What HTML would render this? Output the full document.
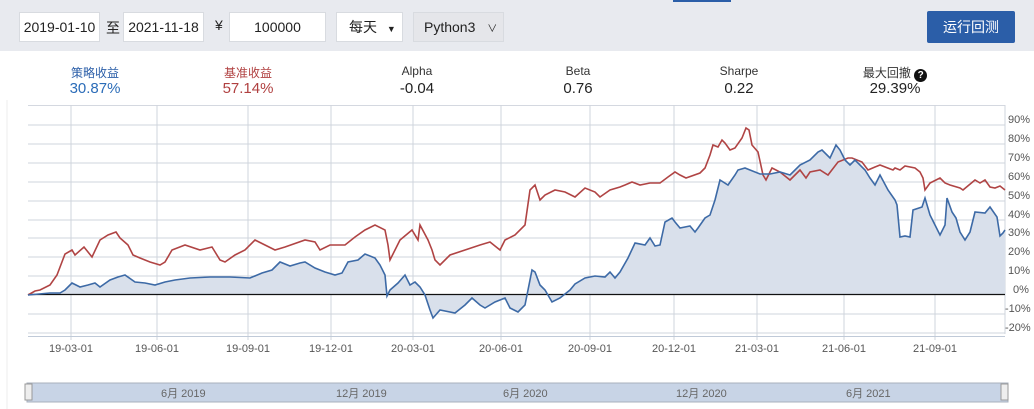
<!DOCTYPE html>
<html><head><meta charset="utf-8"><style>
body{margin:0;width:1034px;height:409px;overflow:hidden;background:#fff;font-family:"Liberation Sans","Noto Sans CJK SC",sans-serif;position:relative}
.hd{position:absolute;left:0;top:0;width:1034px;height:51px;background:#e8eaef}
.box{position:absolute;top:12px;height:30px;background:#fff;border:1px solid #d8dbe0;box-sizing:border-box;font-size:14px;line-height:28px;color:#222}
.st{position:absolute;text-align:center;width:140px}
.st .l{font-size:12px;color:#333;position:absolute;top:64px;width:140px}
.st .v{font-size:15px;color:#222;position:absolute;top:80px;width:140px}
</style></head><body>
<div class="hd"></div>
<div style="position:absolute;left:673px;top:0;width:58px;height:2px;background:#2b5ea8"></div>
<div class="box" style="left:19px;width:81px;text-align:center">2019-01-10</div>
<div style="position:absolute;left:106px;top:18px;font-size:14px;color:#222">至</div>
<div class="box" style="left:123px;width:81px;text-align:center">2021-11-18</div>
<div style="position:absolute;left:215px;top:17px;font-size:14px;color:#222">¥</div>
<div class="box" style="left:229px;width:97px;text-align:center">100000</div>
<div class="box" style="left:336px;width:67px;padding-left:12px">每天 <span style="font-size:9px;margin-left:6px">▼</span></div>
<div class="box" style="left:413px;width:91px;background:#e5e6ea;padding-left:10px">Python3 <span style="font-size:10px;margin-left:8px">∨</span></div>
<div style="position:absolute;left:927px;top:11px;width:88px;height:32px;background:#2b5ea8;border-radius:2px;color:#fff;font-size:14px;line-height:32px;text-align:center">运行回测</div>

<div class="st" style="left:25px"><div class="l" style="color:#2b5ea8">策略收益</div><div class="v" style="color:#2b6cb8">30.87%</div></div>
<div class="st" style="left:178px"><div class="l" style="color:#b04040">基准收益</div><div class="v" style="color:#b04040">57.14%</div></div>
<div class="st" style="left:347px"><div class="l">Alpha</div><div class="v">-0.04</div></div>
<div class="st" style="left:508px"><div class="l">Beta</div><div class="v">0.76</div></div>
<div class="st" style="left:669px"><div class="l">Sharpe</div><div class="v">0.22</div></div>
<div class="st" style="left:825px"><div class="l">最大回撤 <span style="display:inline-block;width:13px;height:13px;border-radius:50%;background:#111;color:#fff;font-size:10px;line-height:13px;font-weight:bold;vertical-align:-1px">?</span></div><div class="v">29.39%</div></div>

<svg style="position:absolute;left:0;top:0" width="1034" height="409" font-family="Liberation Sans, Noto Sans CJK SC, sans-serif">
<line x1="7" y1="100" x2="7" y2="409" stroke="#eee"/>
<line x1="28" y1="105.5" x2="1005" y2="105.5" stroke="#d4d8e0"/>
<g stroke="#cfd4dc" stroke-width="1">
<line x1="28" y1="125" x2="1005" y2="125"/><line x1="28" y1="144" x2="1005" y2="144"/><line x1="28" y1="163" x2="1005" y2="163"/><line x1="28" y1="182" x2="1005" y2="182"/><line x1="28" y1="201" x2="1005" y2="201"/><line x1="28" y1="220" x2="1005" y2="220"/><line x1="28" y1="238" x2="1005" y2="238"/><line x1="28" y1="257" x2="1005" y2="257"/><line x1="28" y1="276" x2="1005" y2="276"/><line x1="28" y1="314" x2="1005" y2="314"/><line x1="28" y1="333" x2="1005" y2="333"/>
<line x1="71" y1="105" x2="71" y2="340"/><line x1="157" y1="105" x2="157" y2="340"/><line x1="248" y1="105" x2="248" y2="340"/><line x1="331" y1="105" x2="331" y2="340"/><line x1="413" y1="105" x2="413" y2="340"/><line x1="501" y1="105" x2="501" y2="340"/><line x1="590" y1="105" x2="590" y2="340"/><line x1="674" y1="105" x2="674" y2="340"/><line x1="757" y1="105" x2="757" y2="340"/><line x1="844" y1="105" x2="844" y2="340"/><line x1="935" y1="105" x2="935" y2="340"/>
<line x1="1005" y1="105" x2="1005" y2="334"/>
</g>
<g font-size="11" fill="#555">
<text x="1008" y="123">90%</text><text x="1008" y="142">80%</text><text x="1008" y="161">70%</text><text x="1008" y="180">60%</text><text x="1008" y="199">50%</text><text x="1008" y="218">40%</text><text x="1008" y="236">30%</text><text x="1008" y="255">20%</text><text x="1008" y="274">10%</text><text x="1013" y="293">0%</text><text x="1005" y="312">-10%</text><text x="1005" y="331">-20%</text>
</g>
<g font-size="11" fill="#555" text-anchor="middle">
<text x="71" y="352">19-03-01</text><text x="157" y="352">19-06-01</text><text x="248" y="352">19-09-01</text><text x="331" y="352">19-12-01</text><text x="413" y="352">20-03-01</text><text x="501" y="352">20-06-01</text><text x="590" y="352">20-09-01</text><text x="674" y="352">20-12-01</text><text x="757" y="352">21-03-01</text><text x="844" y="352">21-06-01</text><text x="935" y="352">21-09-01</text>
</g>
<polygon fill="#d9e0eb" points="28,295 50,293 60,293 65,290 72,283 80,287 88,285 95,283 100,287 110,280 118,277 125,275 135,282 145,283 155,285 165,282 175,280 190,278 210,277 230,277 250,278 262,273 272,270 280,262 290,266 300,263 305,262 315,268 325,272 335,275 342,273 348,262 358,260 365,254 375,258 380,265 385,275 387,296 390,290 398,283 405,275 410,285 415,282 420,287 425,295 430,310 433,318 440,310 455,313 465,305 472,298 480,305 485,308 495,302 505,298 510,308 518,312 525,305 532,270 535,272 540,285 545,290 552,302 560,298 570,290 575,284 585,278 595,276 605,277 610,272 615,278 620,272 628,258 635,243 645,245 650,238 655,246 660,245 665,222 672,218 675,222 680,228 690,226 695,232 698,228 705,218 710,215 715,200 720,180 728,185 735,175 738,170 745,168 750,170 760,174 770,174 780,172 790,175 800,165 810,160 818,152 822,150 830,158 836,145 840,150 845,160 850,165 855,160 865,170 870,178 875,185 880,175 888,190 895,200 897,205 900,237 905,236 910,237 913,210 922,207 925,198 930,215 935,225 940,235 945,225 947,198 952,212 956,218 960,232 965,240 970,232 975,212 985,213 990,207 997,217 1000,236 1003,233 1005,230 1005,294.5 28,294.5"/>
<line x1="28" y1="294.5" x2="1005" y2="294.5" stroke="#111" stroke-width="1.2"/>
<polyline fill="none" stroke="#b04444" stroke-width="1.6" points="28,295 35,291 40,290 50,285 57,275 65,254 72,250 75,255 84,247 92,257 100,240 108,235 116,232 120,238 128,245 133,255 140,258 150,262 160,265 165,262 172,250 185,245 200,250 212,247 220,260 225,262 235,255 245,250 255,240 265,245 275,250 285,247 305,240 315,242 320,250 330,245 345,245 355,237 365,230 375,225 385,230 388,245 390,260 400,240 412,230 418,240 420,225 428,240 432,250 435,260 440,265 450,255 465,250 480,245 490,242 500,250 505,240 515,235 525,225 530,190 535,185 540,200 545,195 555,190 565,192 575,197 585,188 595,192 600,197 610,190 620,187 625,185 632,182 640,185 650,183 660,183 668,177 675,172 680,175 686,178 700,173 705,168 710,155 713,145 718,147 722,140 725,143 730,150 735,148 742,138 746,128 749,130 752,145 758,152 763,175 766,180 772,168 780,172 790,180 800,170 806,178 810,172 820,170 828,175 838,162 848,158 852,158 862,162 868,170 875,167 880,165 893,170 895,168 900,170 905,166 915,168 920,172 923,178 925,190 930,183 940,178 945,183 950,185 960,188 963,190 975,180 980,183 985,180 990,187 995,188 1000,186 1005,190"/>
<polyline fill="none" stroke="#3d6aa6" stroke-width="1.6" points="28,295 50,293 60,293 65,290 72,283 80,287 88,285 95,283 100,287 110,280 118,277 125,275 135,282 145,283 155,285 165,282 175,280 190,278 210,277 230,277 250,278 262,273 272,270 280,262 290,266 300,263 305,262 315,268 325,272 335,275 342,273 348,262 358,260 365,254 375,258 380,265 385,275 387,296 390,290 398,283 405,275 410,285 415,282 420,287 425,295 430,310 433,318 440,310 455,313 465,305 472,298 480,305 485,308 495,302 505,298 510,308 518,312 525,305 532,270 535,272 540,285 545,290 552,302 560,298 570,290 575,284 585,278 595,276 605,277 610,272 615,278 620,272 628,258 635,243 645,245 650,238 655,246 660,245 665,222 672,218 675,222 680,228 690,226 695,232 698,228 705,218 710,215 715,200 720,180 728,185 735,175 738,170 745,168 750,170 760,174 770,174 780,172 790,175 800,165 810,160 818,152 822,150 830,158 836,145 840,150 845,160 850,165 855,160 865,170 870,178 875,185 880,175 888,190 895,200 897,205 900,237 905,236 910,237 913,210 922,207 925,198 930,215 935,225 940,235 945,225 947,198 952,212 956,218 960,232 965,240 970,232 975,212 985,213 990,207 997,217 1000,236 1003,233 1005,230"/>
<line x1="28" y1="336.5" x2="1005" y2="336.5" stroke="#c0cad8"/>
<rect x="27" y="383" width="981" height="19" fill="#c8d4e6" stroke="#a8b0bc"/>
<rect x="25" y="384" width="7" height="16" fill="#eee" stroke="#999"/>
<rect x="1001" y="384" width="7" height="16" fill="#eee" stroke="#999"/>
<g font-size="11" fill="#666">
<text x="161" y="397">6月 2019</text><text x="336" y="397">12月 2019</text><text x="503" y="397">6月 2020</text><text x="676" y="397">12月 2020</text><text x="846" y="397">6月 2021</text>
</g>
</svg>
</body></html>
